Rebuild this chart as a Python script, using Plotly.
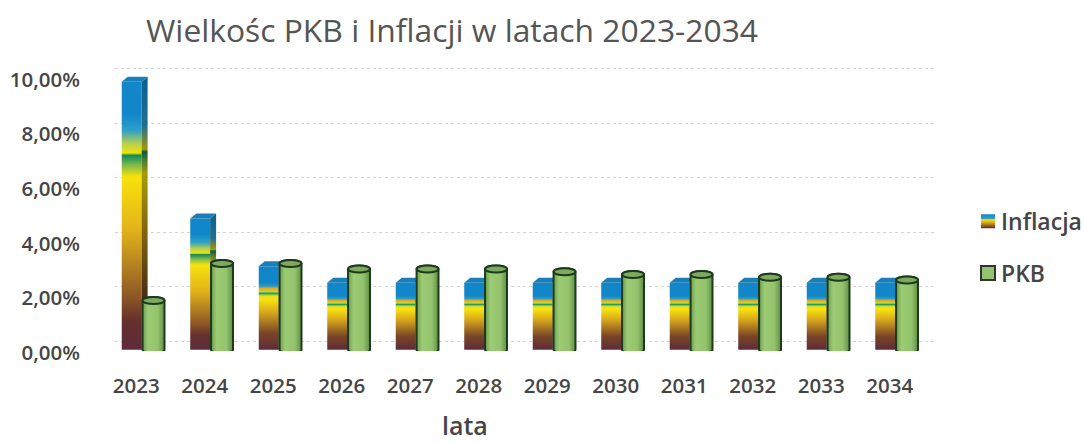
import plotly.graph_objects as go

lata = ["2023","2024","2025","2026","2027","2028","2029","2030","2031","2032","2033","2034"]
inflacja = [9.8,4.8,3.05,2.45,2.45,2.45,2.45,2.45,2.45,2.45,2.45,2.45]
pkb = [1.8,3.15,3.15,2.95,2.95,2.95,2.85,2.75,2.75,2.65,2.65,2.55]
y_ticks = [0,2,4,6,8,10]
y_labels = ["0,00%","2,00%","4,00%","6,00%","8,00%","10,00%"]
tytul = "Wielkośc PKB i Inflacji w latach 2023-2034"
tytul_osi = "lata"

TXT = "#454545"
FONT = "Open Sans"
fig = go.Figure()
fig.add_bar(name="Inflacja", x=lata, y=inflacja, width=0.29, offset=-0.314,
            marker=dict(color="#e8c810", line_width=0), legendgroup="a")
fig.add_bar(name="PKB", x=lata, y=pkb, width=0.32, offset=-0.01,
            marker=dict(color="#93c36c", line=dict(color="#1c3a1c", width=1.5)), legendgroup="b")
fig.update_layout(
    width=1084, height=443, margin=dict(l=109, r=153, t=74.6, b=91.6, autoexpand=False),
    paper_bgcolor="white", plot_bgcolor="rgba(0,0,0,0)",
    barmode="overlay",
    title=dict(text=tytul, x=146/1084, xanchor="left", y=0.93, yanchor="middle",
               font=dict(family=FONT, size=31.8, color="#555555")),
    font=dict(family=FONT, color=TXT),
    showlegend=True,
    xaxis=dict(type="category", range=[-0.5,11.5], showgrid=False, showline=False, ticks="", ticklabelstandoff=20,
               tickfont=dict(size=20.5, color=TXT, weight=600)),
    yaxis=dict(range=[-0.05,10.05], tickvals=y_ticks, ticktext=y_labels, showgrid=True, gridcolor="#d4d4d4", griddash="dot",
               gridwidth=1, zeroline=False, showline=False, ticks="", ticklabelstandoff=28,
               tickfont=dict(size=20.5, color=TXT, weight=600)),
    legend=dict(x=(961-109)/822, xref="paper", y=(350-247)/274, yanchor="middle", xanchor="left", tracegroupgap=19,
                bgcolor="rgba(0,0,0,0)", traceorder="grouped", font=dict(size=23, color=TXT, weight=600), itemwidth=30),
    annotations=[dict(text=tytul_osi, xref="paper", yref="paper", x=(465-109)/822, y=(350-423)/274,
                      xanchor="center", yanchor="middle", showarrow=False,
                      font=dict(size=25, color=TXT, weight=600))],
)

post = r"""
(function(){
document.body.style.margin='0';
var gd=document.querySelector('.js-plotly-plot'); var root=gd.querySelector('svg.main-svg');
var NS='http://www.w3.org/2000/svg';
function el(n,a,p,before){var e=document.createElementNS(NS,n);for(var k in a)e.setAttribute(k,a[k]);if(before)p.insertBefore(e,before);else p.appendChild(e);return e;}
var defs=root.querySelector('defs');
function grad(id,stops,dir){var g=el('linearGradient',dir,defs);g.setAttribute('id',id);stops.forEach(function(s){el('stop',{offset:s[0],'stop-color':s[1]},g)});}
var V={x1:0,y1:1,x2:0,y2:0};
var front=[[0,'#5e2b3a'],[.11,'#66302e'],[.19,'#8a5426'],[.45,'#e3b41a'],[.645,'#f7e20c'],[.69,'#7cba4a'],[.725,'#128a5a'],[.735,'#f0e20c'],[.77,'#b4cf50'],[.82,'#2c9fc8'],[.88,'#1187c9'],[1,'#1187c9']];
var side=[[0,'#2f1a1a'],[.19,'#4a2c14'],[.45,'#85680f'],[.645,'#a89a08'],[.69,'#4f8030'],[.725,'#0c5c3c'],[.735,'#a39a08'],[.82,'#1f6f90'],[1,'#0d5f90']];
var small=[[0,'#5e2b3a'],[.2,'#7a4526'],[.45,'#d8a81c'],[.6,'#f7e20c'],[.64,'#e9de20'],[.655,'#9ad048'],[.675,'#1f9a60'],[.695,'#bfd83a'],[.735,'#e6a820'],[.76,'#2c9fc8'],[.8,'#1187c9'],[1,'#1187c9']];
var smallSide=[[0,'#2f1a1a'],[.2,'#4a2a18'],[.45,'#85680f'],[.62,'#a89a08'],[.66,'#5a8a48'],[.76,'#1f6f90'],[1,'#0d5f90']];
grad('gF',front,V);grad('gS',side,V);grad('gFs',small,V);grad('gSs',smallSide,V);
grad('gC',[[0,'#6d9e4e'],[.25,'#9ccb74'],[.7,'#93c36c'],[1,'#5f8f44']],{x1:0,y1:0,x2:1,y2:0});
grad('gL',[[0,'#5a2a2a'],[.4,'#d8a81c'],[.6,'#f7e20c'],[.7,'#2c9fc8'],[1,'#1187c9']],V);
var tr=root.querySelectorAll('.barlayer .trace.bars');
var dx=6,dy=5;
tr[0].querySelectorAll('.point path').forEach(function(p){
  var b=p.getBBox(),tall=b.height>100;
  p.style.fill='url(#'+(tall?'gF':'gFs')+')';
  var par=p.parentNode;
  el('polygon',{points:[b.x+b.width,b.y,b.x+b.width+dx,b.y-dy,b.x+b.width+dx,b.y+b.height-dy,b.x+b.width,b.y+b.height].join(' '),style:'fill:url(#'+(tall?'gS':'gSs')+')'},par);
  el('polygon',{points:[b.x,b.y,b.x+dx,b.y-dy,b.x+b.width+dx,b.y-dy,b.x+b.width,b.y].join(' '),style:'fill:#1a7fb8'},par);
});
tr[1].querySelectorAll('.point path').forEach(function(p){
  var b=p.getBBox(),par=p.parentNode,rx=b.width/2,ry=3.5,cx=b.x+rx;
  var d='M'+b.x+','+b.y+'A'+rx+','+ry+' 0 0 1 '+(b.x+b.width)+','+b.y+'V'+(b.y+b.height)+'A'+rx+','+ry+' 0 0 1 '+b.x+','+(b.y+b.height)+'Z';
  p.setAttribute('d',d);p.style.fill='url(#gC)';p.style.stroke='#1c3a1c';p.style.strokeWidth='2px';
  el('ellipse',{cx:cx,cy:b.y,rx:rx,ry:ry,style:'fill:#7fa95f;stroke:#1c3a1c;stroke-width:2px'},par);
});
var gl=root.querySelector('.gridlayer');if(gl)gl.setAttribute('transform','translate(6,-8)');
function shift(sel,x,y){gd.querySelectorAll(sel).forEach(function(t){var o=t.getAttribute('transform')||'';t.setAttribute('transform','translate('+x+','+y+') '+o);});}
shift('.xaxislayer-above .xtick',-7,0);
shift('.yaxislayer-above .ytick',0,3);
var lp=gd.querySelectorAll('.legend .legendpoints path');
if(lp[0]){lp[0].setAttribute('d','M14,7H0V-7H14Z');lp[0].style.fill='url(#gL)';}
if(lp[1]){lp[1].setAttribute('d','M14,7H0V-7H14Z');lp[1].style.fill='#93c36c';lp[1].style.stroke='#333';lp[1].style.strokeWidth='2px';}
})();
"""
fig.write_html("out.html", post_script=post, config={"displayModeBar": False})
